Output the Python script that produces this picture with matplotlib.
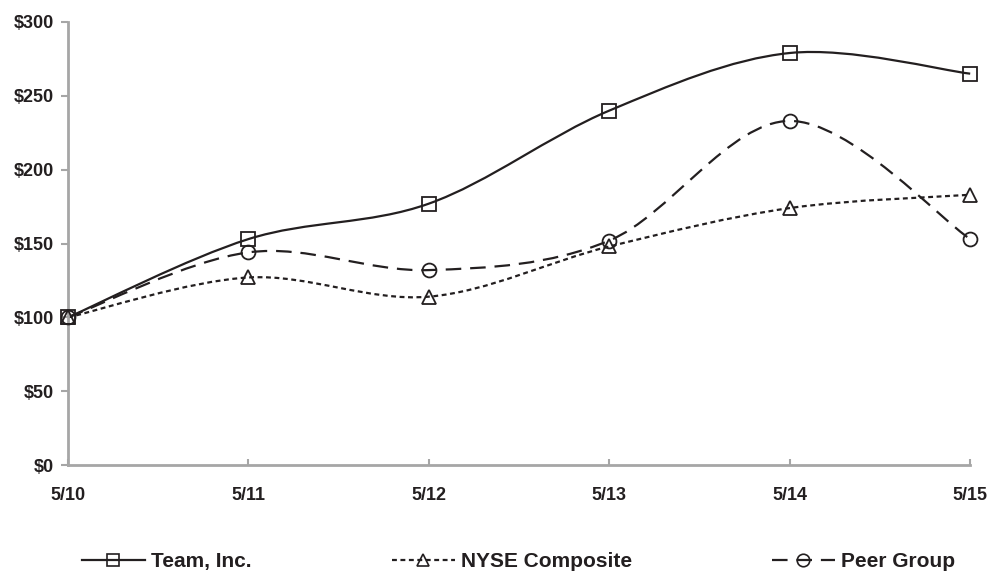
import numpy as np
import matplotlib.pyplot as plt
from matplotlib.path import Path
from matplotlib.patches import PathPatch
from matplotlib.lines import Line2D

plt.rcParams['font.family'] = ['Liberation Sans', 'DejaVu Sans']

annees = ['5/10', '5/11', '5/12', '5/13', '5/14', '5/15']
team = [100, 153, 177, 240, 279, 265]
nyse = [100, 127, 114, 148, 174, 183]
peer = [100, 144, 132, 152, 233, 153]

noir = '#231f20'
gris = '#a6a6a6'


# courbe lissée facon Excel (Bezier a partir des points)
def chemin_lisse(xs, ys):
    pts = np.column_stack([xs, ys]).astype(float)
    verts = [pts[0]]
    codes = [Path.MOVETO]
    n = len(pts)
    for i in range(n - 1):
        p0 = pts[i - 1] if i > 0 else pts[i]
        p1 = pts[i]
        p2 = pts[i + 1]
        p3 = pts[i + 2] if i + 2 < n else pts[i + 1]
        c1 = p1 + (p2 - p0) / 6
        c2 = p2 - (p3 - p1) / 6
        verts += [c1, c2, p2]
        codes += [Path.CURVE4] * 3
    return Path(verts, codes)


fig = plt.figure(figsize=(9.9, 5.71), dpi=100)
ax = fig.add_axes([0.0687, 0.1856, 0.9113, 0.7759])

x = np.arange(len(annees))
series = [
    (team, 's', '-', 'Team, Inc.'),
    (nyse, '^', (0, (2.2, 1.6)), 'NYSE Composite'),
    (peer, 'o', (0, (7, 4)), 'Peer Group'),
]

poignees = []
for ys, mk, ls, nom in series:
    patch = PathPatch(chemin_lisse(x, ys), facecolor='none', edgecolor=noir,
                      lw=1.6, linestyle=ls, zorder=2, clip_on=False)
    ax.add_patch(patch)
    ax.plot(x, ys, ls='none', marker=mk, ms=10, mfc='none', mec=noir,
            mew=1.3, zorder=3, clip_on=False)
    poignees.append(Line2D([], [], color=noir, lw=1.6, linestyle=ls,
                           marker=mk, ms=9, mfc='none', mec=noir, mew=1.2))

ax.set_xlim(0, len(annees) - 1)
ax.set_ylim(0, 300)
ax.set_xticks(x)
ax.set_xticklabels(annees)
ax.set_yticks(range(0, 301, 50))
ax.set_yticklabels([f'${v}' for v in range(0, 301, 50)])

for s in ['top', 'right']:
    ax.spines[s].set_visible(False)
for s in ['left', 'bottom']:
    ax.spines[s].set_color(gris)
    ax.spines[s].set_linewidth(2)
ax.tick_params(axis='y', length=5, width=1.5, color=gris, pad=5)
ax.tick_params(axis='x', direction='in', length=4, width=1.5, color=gris, pad=16)
for lab in ax.get_xticklabels() + ax.get_yticklabels():
    lab.set_fontsize(13)
    lab.set_fontweight('bold')
    lab.set_color(noir)

# legende : trois entrees placees separement
positions = [0.083, 0.396, 0.780]
for h, s, px in zip(poignees, series, positions):
    fig.legend([h], [s[3]], loc='center left', bbox_to_anchor=(px, 0.017),
               frameon=False, handlelength=3.0, handletextpad=0.3,
               borderaxespad=0, borderpad=0,
               prop={'size': 15, 'weight': 'bold'}, labelcolor=noir)

fig.savefig('out.png', dpi=100)
